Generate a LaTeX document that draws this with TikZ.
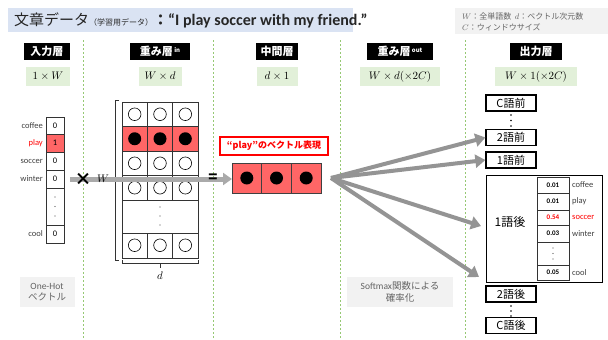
\documentclass[tikz,border=0pt]{standalone}
\usepackage{fontspec}
\setmainfont{Noto Sans CJK JP}
\newfontfamily\enf{Carlito}
\usetikzlibrary{arrows.meta,calc}
\definecolor{titlebg}{RGB}{218,227,243}
\definecolor{notebg}{RGB}{242,242,242}
\definecolor{dimbg}{RGB}{226,240,217}
\definecolor{sepgreen}{RGB}{150,200,115}
\definecolor{cellred}{RGB}{255,102,102}
\definecolor{arrowgray}{RGB}{148,148,148}
\definecolor{linegray}{RGB}{170,170,170}
\definecolor{txtgray}{RGB}{64,64,64}
\definecolor{notetxt}{RGB}{100,100,100}
\tikzset{
  layerhead/.style={fill=black,text=white,font=\fontsize{11}{13}\selectfont\bfseries,inner sep=0pt,minimum height=17pt},
  dimbox/.style={fill=dimbg,minimum height=19pt,inner sep=0pt,font=\fontsize{10.5}{12}\selectfont},
  sepline/.style={draw=sepgreen,dash pattern=on 2pt off 2pt,line width=0.7pt},
  gridln/.style={draw=black!80,line width=0.6pt},
  wordlbl/.style={anchor=east,font=\enf\fontsize{8.5}{10}\selectfont,text=txtgray,inner sep=0pt},
  outlbl/.style={anchor=west,font=\enf\fontsize{8.5}{10}\selectfont,text=txtgray,inner sep=0pt},
  valtxt/.style={font=\enf\fontsize{8.5}{10}\selectfont,inner sep=0pt},
  probtxt/.style={font=\enf\bfseries\fontsize{7}{8}\selectfont,inner sep=0pt},
  wcirc/.style={draw=black,fill=white,line width=0.6pt},
  bdot/.style={fill=black},
  outbox/.style={draw=black,line width=1.3pt,minimum width=50pt,minimum height=16pt,inner sep=0pt,font=\fontsize{11}{13}\selectfont},
  notebox/.style={fill=notebg,inner sep=0pt,align=center,text=notetxt,font=\fontsize{9.5}{11.5}\selectfont},
  outarrow/.style={draw=arrowgray,line width=4pt,-{Triangle[length=10pt,width=13pt]}},
  inarrow/.style={draw=linegray,line width=5pt,-{Triangle[length=9pt,width=12pt]}},
}
\begin{document}
\begin{tikzpicture}[x=1pt,y=-1pt]
\useasboundingbox (0,0) rectangle (608,340);
\fill[white] (0,0) rectangle (608,340);

% separators
\foreach \sx in {83,213,340,465} \draw[sepline] (\sx,40) -- (\sx,340);

% title
\node[fill=titlebg,anchor=north west,minimum width=345pt,minimum height=24pt,inner sep=0pt] (titlebox) at (8,8) {};
\node[anchor=west,inner sep=0pt,text=black!85] (title) at (14,20.5) {{\fontsize{15}{18}\selectfont 文章データ}{\fontsize{8}{10}\selectfont （学習用データ）}{\fontsize{15}{18}\selectfont\bfseries ：}{\enf\bfseries\fontsize{16}{18}\selectfont “I play soccer with my friend.”}};

% legend note
\node[fill=notebg,anchor=north west,minimum width=153pt,minimum height=26pt,inner sep=0pt] (notebox) at (455,8) {};
\node[anchor=west,inner sep=0pt,text=notetxt,font=\fontsize{8}{9}\selectfont] (note1) at (462,16.5) {$W$：全単語数\ \ $d$：ベクトル次元数};
\node[anchor=west,inner sep=0pt,text=notetxt,font=\fontsize{8}{9}\selectfont] (note2) at (462,27) {$C$：ウィンドウサイズ};

% layer headers
\node[layerhead,minimum width=46pt] (h1) at (47,51.5) {入力層};
\node[layerhead,minimum width=60pt] (h2) at (160,51.5) {重み層{\fontsize{6}{6}\selectfont\raisebox{3pt}{ in}}};
\node[layerhead,minimum width=42pt] (h3) at (277,51.5) {中間層};
\node[layerhead,minimum width=66pt] (h4) at (400,51.5) {重み層{\fontsize{6}{6}\selectfont\raisebox{3pt}{ out}}};
\node[layerhead,minimum width=52pt] (h5) at (536,51.5) {出力層};

\node[dimbox,minimum width=44pt] (d1) at (48,76.5) {$1\times W$};
\node[dimbox,minimum width=43pt] (d2) at (160,76.5) {$W\times d$};
\node[dimbox,minimum width=41pt] (d3) at (277,76.5) {$d\times 1$};
\node[dimbox,minimum width=80pt] (d4) at (400,76.5) {$W\times d(\times 2C)$};
\node[dimbox,minimum width=82pt] (d5) at (536,76.5) {$W\times 1(\times 2C)$};

% one-hot input vector
\fill[cellred] (46,134) rectangle (64,152);
\node[gridln,anchor=north west,minimum width=18pt,minimum height=126pt,inner sep=0pt] (onehot) at (46,117) {};
\foreach \y in {134,152,170,188,225} \draw[gridln] (46,\y) -- (64,\y);
\node[valtxt] (v1) at (55,125.5) {0};
\node[valtxt] (v2) at (55,143) {1};
\node[valtxt] (v3) at (55,161) {0};
\node[valtxt] (v4) at (55,179) {0};
\node[valtxt] (v5) at (55,234) {0};
\foreach \y in {197,206.5,216} \fill[black!70] (55,\y) circle (0.7);
\node[wordlbl] (w1) at (43,125.5) {coffee};
\node[wordlbl,text=red] (w2) at (43,143) {play};
\node[wordlbl] (w3) at (43,161) {soccer};
\node[wordlbl] (w4) at (43,179) {winter};
\node[wordlbl] (w5) at (43,234) {cool};

% W_in matrix
\fill[cellred] (122,126.5) rectangle (198,151);
\node[gridln,anchor=north west,minimum width=76pt,minimum height=155.5pt,inner sep=0pt] (win) at (122,102) {};
\foreach \y in {126.5,151,175.5,200,233} \draw[gridln] (122,\y) -- (198,\y);
\foreach \x in {147.33,172.67} {\draw[gridln] (\x,102) -- (\x,200); \draw[gridln] (\x,233) -- (\x,257.5);}
\foreach \x in {134.67,160,185.33} {
  \foreach \y in {114.25,163.25,187.75,245.25} \draw[wcirc] (\x,\y) circle (6.3);
  \fill[bdot] (\x,138.75) circle (6.5);
}
\foreach \y in {207,216,225} \fill[black!70] (160,\y) circle (0.7);
\draw[black!80,line width=0.8pt] (119,100) -- (115,100) -- (115,260) -- (119,260);
\draw[black!80,line width=0.8pt] (115,179) -- (110,179);
\draw[black!80,line width=0.8pt] (122,260) -- (122,263.5) -- (198,263.5) -- (198,260);
\draw[black!80,line width=0.8pt] (160,263.5) -- (160,267.5);
\node[inner sep=0pt,font=\fontsize{11}{13}\selectfont] (dlbl) at (160,276) {$d$};

% middle vector
\node[draw=black!75,fill=cellred,line width=0.7pt,anchor=north west,minimum width=89pt,minimum height=30pt,inner sep=0pt] (mid) at (232,163) {};
\foreach \x in {261.67,291.33} \draw[black!75,line width=0.7pt] (\x,163) -- (\x,193);
\foreach \x in {246.8,276.5,306.2} \fill[bdot] (\x,178) circle (6.5);
\node[draw=red,line width=1.5pt,fill=white,text=red,font=\fontsize{9}{11}\selectfont\bfseries,minimum width=108pt,minimum height=18pt,inner sep=0pt] (vlabel) at (274,146) {“play”のベクトル表現};

% input flow arrow
\coordinate (instart) at (70,179);
\draw[inarrow] (instart) -- (mid.west |- instart);
\node[inner sep=0pt,font=\fontsize{17}{17}\selectfont\bfseries] (timeslbl) at (83,179) {×};
\node[inner sep=0pt,font=\fontsize{11}{13}\selectfont] (wlbl) at (103,179) {$W$};
\node[inner sep=0pt,font=\fontsize{15}{15}\selectfont\bfseries] (eqlbl) at (213,178.5) {=};

% output column
\node[outbox] (bC) at (511,103) {C語前};
\foreach \y in {115,120.5,126} \fill[black] (511,\y) circle (0.8);
\node[outbox] (b2) at (511,137.5) {2語前};
\node[outbox] (b1) at (511,160) {1語前};
\node[draw=black,line width=1.3pt,anchor=north west,minimum width=116pt,minimum height=107pt,inner sep=0pt] (after) at (486,175) {};
\node[inner sep=0pt,font=\fontsize{12}{14}\selectfont] (afterlbl) at (510,222) {1語後};
\node[gridln,anchor=north west,minimum width=32pt,minimum height=103pt,inner sep=0pt] (probs) at (537,177) {};
\foreach \y in {193,210,225,242,265} \draw[gridln] (537,\y) -- (569,\y);
\node[probtxt] (p1) at (553,185) {0.01};
\node[probtxt] (p2) at (553,201.5) {0.01};
\node[probtxt,text=red] (p3) at (553,217.5) {0.54};
\node[probtxt] (p4) at (553,233.5) {0.03};
\node[probtxt] (p5) at (553,272.5) {0.05};
\foreach \y in {248,253.5,259} \fill[black!70] (553,\y) circle (0.6);
\node[outlbl] (o1) at (572,185) {coffee};
\node[outlbl] (o2) at (572,201.5) {play};
\node[outlbl,text=red] (o3) at (572,217.5) {soccer};
\node[outlbl] (o4) at (572,233.5) {winter};
\node[outlbl] (o5) at (572,272.5) {cool};
\node[outbox] (a2) at (511,294) {2語後};
\foreach \y in {306,311,316} \fill[black] (511,\y) circle (0.8);
\node[outbox] (aC) at (511,325.5) {C語後};

% output arrows
\coordinate (fan) at (331,178);
\coordinate (t3) at (481,226);
\coordinate (t4) at (479,277);
\draw[outarrow] (fan) -- (b2.west);
\draw[outarrow] (fan) -- (b1.west);
\draw[outarrow] (fan) -- (t3);
\draw[outarrow] (fan) -- (t4);

% bottom notes
\node[notebox,minimum width=55pt,minimum height=30pt] (n1) at (47,292) {\enf One-Hot\\ベクトル};
\node[notebox,minimum width=106pt,minimum height=30pt] (n2) at (400,292) {{\enf Softmax}関数による\\確率化};
\end{tikzpicture}
\end{document}
